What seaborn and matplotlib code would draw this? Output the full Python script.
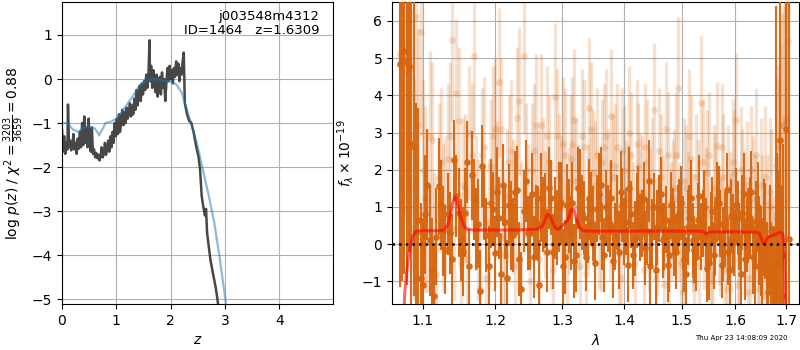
import numpy as np
import pandas as pd
import matplotlib
matplotlib.use('Agg')
import matplotlib.pyplot as plt
import seaborn as sns
from matplotlib.ticker import FixedLocator, FormatStrFormatter, NullLocator

# p(z) curve (dark, noisy) and smoothed curve (blue)
z_dark = [0.00, 0.02, 0.04, 0.06, 0.08, 0.10, 0.11, 0.13, 0.15, 0.17,
          0.19, 0.21, 0.23, 0.25, 0.27, 0.29, 0.31, 0.33, 0.35, 0.37,
          0.39, 0.41, 0.43, 0.45, 0.47, 0.49, 0.51, 0.53, 0.55, 0.57,
          0.59, 0.61, 0.63, 0.65, 0.67, 0.69, 0.71, 0.73, 0.75, 0.77,
          0.79, 0.81, 0.83, 0.85, 0.87, 0.89, 0.91, 0.93, 0.95, 0.97,
          0.99, 1.01, 1.03, 1.05, 1.07, 1.09, 1.11, 1.13, 1.15, 1.17,
          1.19, 1.21, 1.23, 1.25, 1.27, 1.29, 1.31, 1.33, 1.35, 1.37,
          1.39, 1.41, 1.43, 1.45, 1.47, 1.49, 1.51, 1.53, 1.55, 1.57,
          1.59, 1.61, 1.62, 1.64, 1.66, 1.68, 1.70, 1.72, 1.74, 1.76,
          1.78, 1.80, 1.82, 1.84, 1.86, 1.88, 1.90, 1.92, 1.94, 1.96,
          1.98, 2.00, 2.02, 2.04, 2.06, 2.08, 2.10, 2.12, 2.14, 2.16,
          2.18, 2.20, 2.22, 2.24, 2.26, 2.30, 2.34, 2.38, 2.42, 2.45,
          2.48, 2.51, 2.54, 2.57, 2.60, 2.63, 2.65, 2.67, 2.70, 2.73,
          2.76, 2.80, 2.83, 2.86, 2.88, 2.90]
logp_dark = [-1.15, -1.65, -1.30, -1.70, -1.45, -1.60, -0.58, -1.55, -1.40, -1.62,
             -1.50, -1.25, -1.60, -1.45, -1.70, -1.35, -1.58, -1.20, -1.55, -1.00,
             -1.50, -0.85, -1.45, -1.10, -1.55, -0.90, -1.40, -1.65, -1.10, -1.70,
             -1.60, -1.78, -1.68, -1.80, -1.72, -1.85, -1.75, -1.55, -1.78, -1.70,
             -1.45, -1.72, -1.60, -1.40, -1.65, -1.30, -1.55, -1.20, -1.45, -1.00,
             -1.30, -0.90, -1.25, -0.80, -1.20, -0.95, -0.70, -1.05, -0.75, -1.00,
             -0.65, -0.90, -0.75, -0.55, -0.85, -0.60, -0.80, -0.45, -0.70, -0.25,
             -0.60, -0.40, -0.15, -0.50, -0.10, -0.35, -0.05, -0.25, 0.10, -0.20,
             0.05, 0.88, -0.05, 0.30, -0.20, 0.20, -0.10, -0.30, 0.10, -0.40,
             -0.15, 0.05, -0.35, 0.15, -0.20, 0.00, -0.50, -0.10, 0.25, -0.05,
             0.30, 0.00, 0.20, -0.10, 0.25, 0.05, 0.40, 0.10, 0.35, -0.05,
             0.25, 0.10, 0.40, 0.60, -0.55, -0.80, -0.95, -1.00, -1.20, -1.40,
             -1.60, -1.75, -2.05, -2.65, -2.90, -3.10, -2.95, -3.50, -3.80, -4.10,
             -4.30, -4.55, -4.75, -5.00, -5.20, -5.60]

z_smooth = [0.00, 0.10, 0.20, 0.30, 0.40, 0.50, 0.60, 0.65, 0.68, 0.72,
            0.80, 0.90, 1.00, 1.10, 1.20, 1.30, 1.40, 1.50, 1.60, 1.70,
            1.80, 1.90, 2.00, 2.10, 2.20, 2.30, 2.40, 2.50, 2.60, 2.70,
            2.80, 2.90, 3.00, 3.05]
logp_smooth = [-1.00, -1.00, -1.15, -1.20, -1.10, -1.08, -1.12, -1.20, -1.28, -1.20,
               -1.00, -0.97, -0.90, -0.75, -0.57, -0.40, -0.20, -0.08, -0.02, 0.00,
               -0.02, -0.04, -0.06, -0.12, -0.30, -0.70, -1.10, -1.55, -2.10, -2.65,
               -3.25, -4.05, -4.95, -5.45]

# spectrum wavelength grids (two interleaved samplings)
wave_a = [1.070, 1.076, 1.082, 1.088, 1.094, 1.100, 1.106, 1.112, 1.118, 1.124,
          1.130, 1.136, 1.142, 1.148, 1.154, 1.160, 1.166, 1.172, 1.178, 1.184,
          1.190, 1.196, 1.202, 1.208, 1.214, 1.220, 1.226, 1.232, 1.238, 1.244,
          1.250, 1.256, 1.262, 1.268, 1.274, 1.280, 1.286, 1.292, 1.298, 1.304,
          1.310, 1.316, 1.322, 1.328, 1.334, 1.340, 1.346, 1.352, 1.358, 1.364,
          1.370, 1.376, 1.382, 1.388, 1.394, 1.400, 1.406, 1.412, 1.418, 1.424,
          1.430, 1.436, 1.442, 1.448, 1.454, 1.460, 1.466, 1.472, 1.478, 1.484,
          1.490, 1.496, 1.502, 1.508, 1.514, 1.520, 1.526, 1.532, 1.538, 1.544,
          1.550, 1.556, 1.562, 1.568, 1.574, 1.580, 1.586, 1.592, 1.598, 1.604,
          1.610, 1.616, 1.622, 1.628, 1.634, 1.640, 1.646, 1.652, 1.658, 1.664,
          1.670, 1.676, 1.682, 1.688, 1.694, 1.700, 1.706, 1.712]
wave_b = [1.073, 1.079, 1.085, 1.091, 1.097, 1.103, 1.109, 1.115, 1.121, 1.127,
          1.133, 1.139, 1.145, 1.151, 1.157, 1.163, 1.169, 1.175, 1.181, 1.187,
          1.193, 1.199, 1.205, 1.211, 1.217, 1.223, 1.229, 1.235, 1.241, 1.247,
          1.253, 1.259, 1.265, 1.271, 1.277, 1.283, 1.289, 1.295, 1.301, 1.307,
          1.313, 1.319, 1.325, 1.331, 1.337, 1.343, 1.349, 1.355, 1.361, 1.367,
          1.373, 1.379, 1.385, 1.391, 1.397, 1.403, 1.409, 1.415, 1.421, 1.427,
          1.433, 1.439, 1.445, 1.451, 1.457, 1.463, 1.469, 1.475, 1.481, 1.487,
          1.493, 1.499, 1.505, 1.511, 1.517, 1.523, 1.529, 1.535, 1.541, 1.547,
          1.553, 1.559, 1.565, 1.571, 1.577, 1.583, 1.589, 1.595, 1.601, 1.607,
          1.613, 1.619, 1.625, 1.631, 1.637, 1.643, 1.649, 1.655, 1.661, 1.667,
          1.673, 1.679, 1.685, 1.691, 1.697, 1.703]

# solid points on grid a
flux_a = [4.85, 5.20, 4.80, 2.60, 0.65, -1.10, 1.60, -0.70, 0.20, 1.05,
          -0.15, 0.30, 2.25, 0.85, -0.20, 2.20, 1.85, 0.40, -1.25, 1.10,
          -0.60, 0.95, 1.40, -0.80, 0.60, 1.05, 0.25, 1.45, -1.20, 1.70,
          0.30, -0.35, 0.55, 1.25, 0.90, 1.50, -0.20, 0.45, 1.10, -0.35,
          0.75, 1.10, -0.30, 1.35, 0.70, 0.40, 0.95, -0.50, 1.35, 0.20,
          1.00, 0.55, -0.45, 0.85, 1.40, 0.35, -0.55, 0.80, 0.15, 1.10,
          0.55, -0.10, 1.70, 0.30, -0.70, 0.95, 0.10, 0.65, -0.30, 0.60,
          -0.20, 0.85, 0.30, -0.80, 0.70, 0.10, -0.35, 1.30, 0.55, 0.25,
          -0.50, 0.90, 0.15, 1.10, -0.55, 0.40, -0.20, 0.75, 0.05, 0.70,
          -0.80, 1.35, 0.25, 0.70, -0.35, 0.60, 0.10, -0.50, 0.35, -1.30,
          -0.90, -1.35, 0.25, 2.80, -0.30, 3.10, 0.15, np.nan]
err_a = [6.0, 6.0, 5.0, 4.0, 3.0, 1.8, 1.5, 1.4, 1.3, 1.2,
         1.2, 1.1, 1.1, 1.2, 1.2, 1.1, 1.2, 1.1, 1.1, 1.0,
         1.1, 1.0, 1.2, 1.1, 1.0, 1.1, 1.0, 1.2, 1.0, 1.1,
         1.0, 1.1, 1.0, 1.2, 1.0, 1.1, 1.0, 1.0, 1.1, 1.0,
         1.0, 1.1, 1.0, 1.2, 1.0, 0.9, 1.0, 1.0, 1.1, 0.9,
         1.0, 0.9, 1.0, 1.0, 1.1, 0.9, 1.0, 0.9, 1.0, 1.0,
         0.9, 1.0, 1.1, 0.9, 1.0, 0.9, 1.0, 0.9, 1.0, 0.9,
         1.0, 0.9, 1.0, 1.0, 0.9, 1.0, 0.9, 1.1, 0.9, 1.0,
         1.0, 0.9, 1.0, 1.0, 0.9, 1.0, 0.9, 1.0, 0.9, 1.0,
         1.0, 1.1, 1.0, 1.1, 1.0, 1.1, 1.2, 1.2, 1.3, 1.4,
         1.5, 1.8, 2.2, 6.0, 3.0, 8.0, 8.0, np.nan]

# solid points on grid b
flux_c = [5.00, 4.90, 2.70, 0.30, -0.90, 0.80, 0.10, -1.40, 1.55, 0.35,
          0.80, -0.40, 1.30, 0.10, 0.85, -0.60, 1.20, 0.55, 2.10, 0.25,
          1.10, -0.25, 0.70, 1.60, -0.90, 0.50, 1.40, -0.40, 0.90, 0.30,
          1.35, 0.60, -1.10, 0.80, -0.20, 1.25, 0.70, 1.00, -0.60, 1.05,
          0.30, -0.45, 1.50, 0.85, -0.35, 1.20, 0.55, 0.95, 1.60, -0.30,
          0.70, 1.25, 0.20, -0.20, 1.05, 0.60, 1.50, -0.30, 0.90, 0.45,
          1.20, 0.35, -0.60, 1.00, 0.45, 1.35, 0.20, -0.55, 1.05, 0.15,
          0.70, 1.10, -0.40, 0.45, 1.25, -0.15, 0.65, 0.20, 1.00, -0.65,
          0.40, -0.30, 1.20, 0.55, 0.00, 1.45, -0.70, 0.35, 1.05, 0.20,
          0.85, -0.40, 0.50, 1.40, -0.60, 1.00, -0.20, 0.45, -0.70, 0.20,
          -1.10, 0.40, -0.50, -1.40, np.nan, np.nan]
err_c = [6.0, 6.0, 4.5, 3.5, 2.0, 1.6, 1.5, 1.4, 1.3, 1.2,
         1.1, 1.2, 1.1, 1.1, 1.2, 1.0, 1.1, 1.2, 1.1, 1.0,
         1.2, 1.0, 1.1, 1.1, 1.0, 1.2, 1.1, 1.0, 1.1, 1.0,
         1.1, 1.0, 1.2, 1.0, 1.1, 1.0, 1.1, 1.2, 1.0, 1.1,
         1.0, 1.0, 1.1, 1.0, 0.9, 1.1, 1.0, 0.9, 1.0, 1.0,
         0.9, 1.0, 0.9, 1.0, 1.0, 0.9, 1.1, 0.9, 1.0, 0.9,
         1.0, 0.9, 1.0, 0.9, 1.0, 1.0, 0.9, 1.0, 0.9, 1.0,
         0.9, 1.0, 0.9, 1.0, 1.0, 0.9, 1.0, 0.9, 1.0, 0.9,
         1.0, 0.9, 1.0, 0.9, 1.0, 1.0, 0.9, 1.0, 1.0, 0.9,
         1.0, 1.1, 1.0, 1.1, 1.1, 1.2, 1.2, 1.3, 1.3, 1.4,
         1.6, 6.0, 2.5, 3.0, np.nan, np.nan]

# faint points on grid b
flux_b = [4.80, 5.40, 2.80, 6.10, 5.70, 1.20, 2.90, -0.30, 1.80, 0.70,
          2.30, 5.50, 4.05, -0.50, 1.50, 3.00, 5.05, 0.40, 2.40, -0.90,
          2.10, 3.10, 4.35, 0.20, 1.30, 2.50, -0.60, 3.85, 5.05, 1.00,
          2.00, 3.20, -0.40, 1.60, 2.90, 0.50, 3.95, 1.80, 2.70, -0.20,
          2.30, 3.35, 1.00, 2.90, -0.80, 3.65, 1.90, 2.40, 0.30, 2.60,
          1.50, 3.45, 2.10, -0.30, 2.50, 1.20, 3.00, 0.60, 2.70, 1.40,
          -0.70, 2.20, 1.00, 3.60, 0.20, 1.80, -1.10, 2.40, 0.60, 1.50,
          4.20, -0.50, 1.70, 0.90, 2.30, -1.00, 1.20, 3.80, 0.40, 1.90,
          -0.80, 1.50, 2.65, 0.20, 1.80, -1.20, 0.90, 2.20, 3.35, -0.40,
          1.40, 0.20, -1.30, 2.00, 0.70, -0.60, 1.60, -1.40, 0.50, 1.40,
          -0.90, 2.10, 1.80, 3.20, 3.40, 5.45]
err_b = [4.0, 4.0, 3.5, 3.0, 2.8, 2.5, 2.3, 2.2, 2.0, 2.0,
         2.0, 2.2, 2.0, 1.9, 2.0, 1.8, 2.2, 1.9, 1.8, 1.9,
         1.8, 1.9, 2.0, 1.8, 1.8, 1.9, 1.7, 2.0, 2.1, 1.7,
         1.8, 1.9, 1.7, 1.8, 1.9, 1.7, 2.0, 1.7, 1.8, 1.6,
         1.7, 1.9, 1.7, 1.8, 1.6, 1.9, 1.7, 1.8, 1.6, 1.7,
         1.6, 1.8, 1.7, 1.6, 1.7, 1.6, 1.8, 1.6, 1.7, 1.6,
         1.6, 1.7, 1.6, 1.8, 1.6, 1.7, 1.6, 1.7, 1.6, 1.6,
         1.9, 1.6, 1.7, 1.6, 1.7, 1.6, 1.6, 1.8, 1.6, 1.7,
         1.6, 1.7, 1.7, 1.6, 1.7, 1.6, 1.6, 1.7, 1.8, 1.6,
         1.7, 1.6, 1.7, 1.7, 1.7, 1.7, 1.8, 1.8, 1.9, 2.0,
         2.2, 2.4, 2.6, 3.0, 3.5, 4.5]

# faint points on grid a
flux_d = [5.10, 4.60, 4.70, 1.50, 3.20, 2.00, 0.90, 2.80, -0.80, 2.20,
          1.00, 2.90, 0.40, 3.30, 1.60, -0.40, 2.40, 1.10, -1.20, 2.60,
          0.60, 2.90, 1.50, 3.10, -0.30, 2.20, 1.00, 3.40, 0.50, 2.00,
          -1.00, 2.50, 1.40, 3.20, 0.80, 2.20, -0.70, 2.90, 1.20, 2.40,
          0.90, 2.70, 1.70, -0.60, 2.60, 1.00, 3.10, 1.60, 0.40, 2.20,
          2.90, 0.60, 1.80, 2.60, -0.90, 2.00, 1.10, 2.40, -0.50, 2.10,
          1.30, 2.60, 0.30, 1.70, -0.90, 2.50, 0.80, 3.10, -0.40, 1.20,
          2.40, 0.60, -1.30, 1.50, 2.90, 0.30, 1.80, -0.60, 2.20, 1.00,
          2.40, -1.00, 1.30, 0.50, 2.60, -0.70, 1.50, 0.30, 1.90, -1.10,
          2.00, 0.80, 1.60, -0.90, 1.20, 2.40, -1.20, 0.60, 1.80, -0.80,
          1.00, -1.40, 2.30, 2.60, 3.20, 3.30, np.nan, np.nan]
err_d = [4.0, 3.8, 3.4, 3.0, 2.6, 2.4, 2.2, 2.1, 2.0, 2.0,
         1.9, 2.0, 1.9, 2.0, 1.8, 1.9, 1.9, 1.8, 1.8, 1.9,
         1.7, 1.9, 1.8, 1.9, 1.7, 1.8, 1.8, 1.9, 1.7, 1.8,
         1.7, 1.8, 1.7, 1.9, 1.7, 1.8, 1.7, 1.8, 1.7, 1.8,
         1.7, 1.8, 1.7, 1.6, 1.8, 1.7, 1.8, 1.7, 1.6, 1.7,
         1.8, 1.6, 1.7, 1.7, 1.6, 1.7, 1.6, 1.7, 1.6, 1.7,
         1.6, 1.7, 1.6, 1.7, 1.6, 1.7, 1.6, 1.8, 1.6, 1.6,
         1.7, 1.6, 1.6, 1.7, 1.8, 1.6, 1.7, 1.6, 1.7, 1.6,
         1.7, 1.6, 1.7, 1.6, 1.7, 1.6, 1.7, 1.6, 1.7, 1.6,
         1.7, 1.7, 1.7, 1.7, 1.7, 1.8, 1.8, 1.8, 1.9, 2.0,
         2.1, 2.3, 2.5, 2.8, 3.2, 3.8, 4.0, 4.0]

# best-fit model
model_wave = [1.074, 1.076, 1.078, 1.081, 1.084, 1.087, 1.090, 1.094, 1.100, 1.110,
              1.120, 1.128, 1.133, 1.137, 1.140, 1.143, 1.146, 1.150, 1.155, 1.160,
              1.170, 1.200, 1.230, 1.260, 1.268, 1.273, 1.277, 1.281, 1.286, 1.290,
              1.294, 1.298, 1.303, 1.308, 1.311, 1.314, 1.318, 1.322, 1.327, 1.332,
              1.340, 1.380, 1.420, 1.460, 1.500, 1.535, 1.540, 1.545, 1.550, 1.560,
              1.600, 1.640, 1.646, 1.650, 1.654, 1.658, 1.663, 1.670, 1.680, 1.688,
              1.693, 1.696, 1.698, 1.700]
model_flux = [-3.00, -1.40, -0.90, -0.40, 0.00, 0.22, 0.33, 0.36, 0.36, 0.36,
              0.36, 0.38, 0.50, 0.80, 1.10, 1.27, 1.15, 0.80, 0.50, 0.40,
              0.38, 0.38, 0.38, 0.40, 0.45, 0.62, 0.80, 0.75, 0.55, 0.42,
              0.40, 0.46, 0.55, 0.62, 0.75, 0.92, 0.93, 0.70, 0.45, 0.37,
              0.35, 0.35, 0.35, 0.35, 0.35, 0.35, 0.33, 0.28, 0.32, 0.33,
              0.33, 0.32, 0.30, 0.18, 0.02, 0.05, 0.18, 0.22, 0.27, 0.32,
              0.30, 0.00, -1.00, -3.00]

z_ticks = [0, 1, 2, 3, 4]
wave_ticks = [1.1, 1.2, 1.3, 1.4, 1.5, 1.6, 1.7]

df_pz = pd.DataFrame({'z': z_dark, 'logp': logp_dark})
df_smooth = pd.DataFrame({'z': z_smooth, 'logp': logp_smooth})
df_model = pd.DataFrame({'wave': model_wave, 'flux': model_flux})

spec_color = '#d5650f'

fig = plt.figure(figsize=(8, 3.5), dpi=100)
ax1 = fig.add_axes([0.0775, 0.1314, 0.339, 0.863])
ax2 = fig.add_axes([0.49, 0.1314, 0.509, 0.863])

# left: redshift probability
sns.lineplot(data=df_pz, x='z', y='logp', ax=ax1, color='0.2', alpha=0.9,
             lw=1.8, sort=False, estimator=None)
sns.lineplot(data=df_smooth, x='z', y='logp', ax=ax1, color='tab:blue', alpha=0.5,
             lw=1.6, sort=False, estimator=None)
ax1.set_xlim(0, 4.99)
ax1.set_ylim(-5.11, 1.75)
ax1.set_xticks(z_ticks)
ax1.grid(True)
ax1.set_axisbelow(True)
ax1.set_xlabel('$z$')
ax1.set_ylabel(r'log $p(z)$ / $\chi^2=\frac{3203}{3659}=0.88$')
ax1.text(0.95, 0.975, 'j003548m4312\nID=1464   z=1.6309', transform=ax1.transAxes,
         ha='right', va='top', fontsize=9.5, linespacing=1.15)

# right: spectrum, faint beam first, solid beam on top
for w, f, e in [(wave_b, flux_b, err_b), (wave_a, flux_d, err_d)]:
    ax2.errorbar(w, f, yerr=e, fmt='o', color=spec_color, alpha=0.2,
                 ms=5, mew=0, elinewidth=2.4, capsize=0, zorder=2)
for w, f, e in [(wave_a, flux_a, err_a), (wave_b, flux_c, err_c)]:
    ax2.errorbar(w, f, yerr=e, fmt='o', color=spec_color, alpha=0.95,
                 ms=4.8, mew=0, elinewidth=1.5, capsize=0, zorder=3)
sns.lineplot(data=df_model, x='wave', y='flux', ax=ax2, color='red', alpha=0.6,
             lw=2.2, sort=False, estimator=None, zorder=4)
ax2.axhline(0, color='k', ls=':', lw=1.8, zorder=5)
ax2.set_xscale('log')
ax2.set_xlim(1.06, 1.727)
ax2.set_ylim(-1.61, 6.51)
ax2.xaxis.set_major_locator(FixedLocator(wave_ticks))
ax2.xaxis.set_major_formatter(FormatStrFormatter('%.1f'))
ax2.xaxis.set_minor_locator(NullLocator())
ax2.grid(True)
ax2.set_axisbelow(True)
ax2.set_xlabel(r'$\lambda$')
ax2.set_ylabel(r'$f_\lambda \times 10^{-19}$')

fig.text(0.985, 0.027, 'Thu Apr 23 14:08:09 2020', ha='right', va='bottom', fontsize=5)

fig.savefig('out.png', dpi=100)
